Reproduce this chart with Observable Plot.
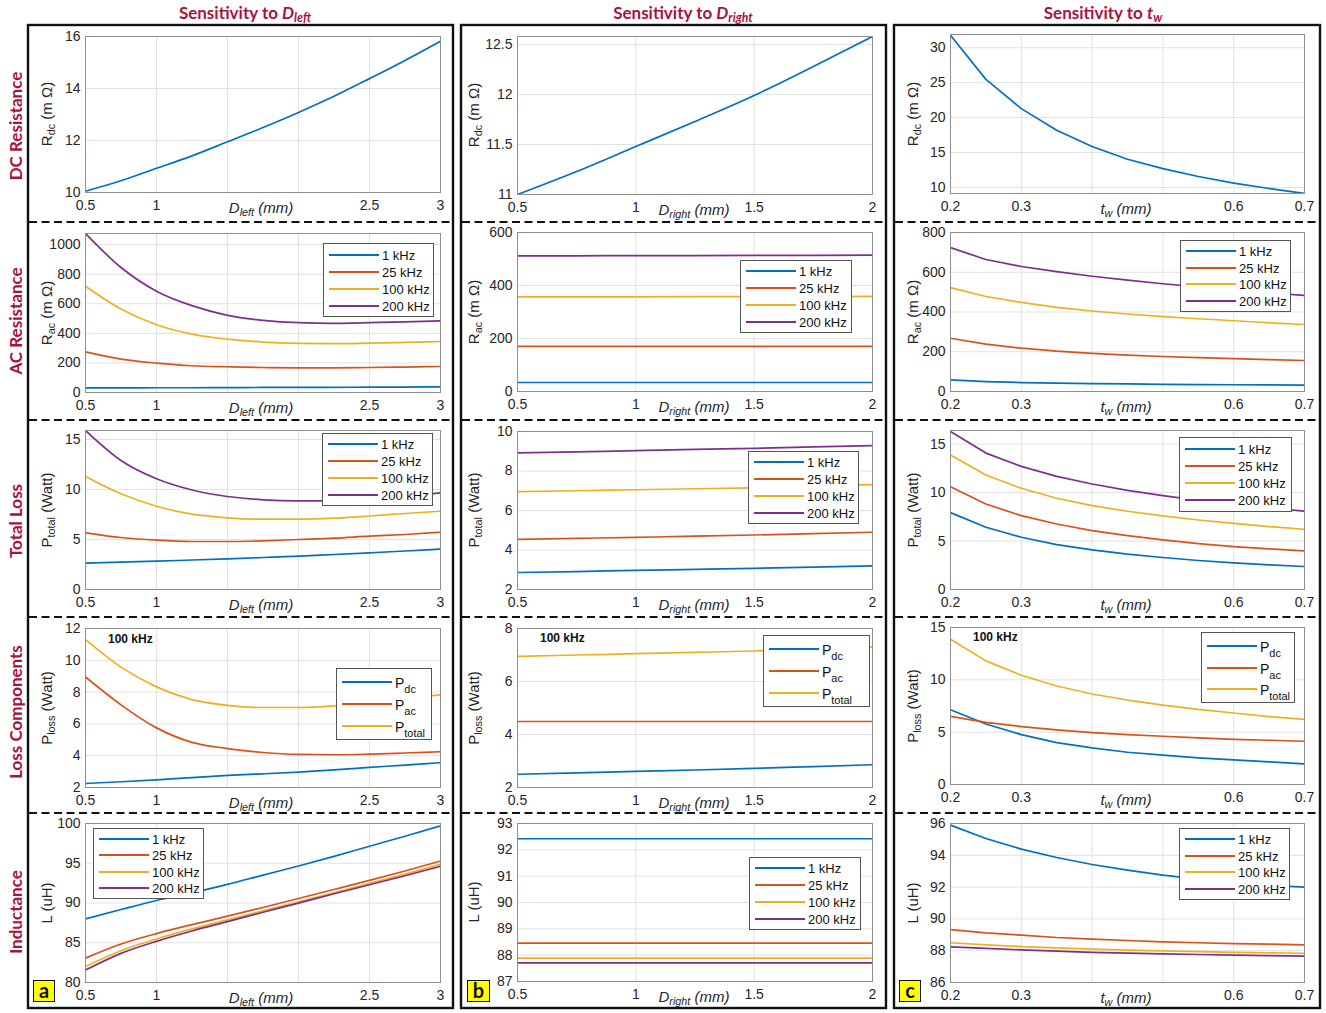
<!DOCTYPE html>
<html>
<head>
<meta charset="utf-8">
<script src="https://cdn.jsdelivr.net/npm/d3@7"></script>
<script src="https://cdn.jsdelivr.net/npm/@observablehq/plot@0.6"></script>
<style>
  body { margin: 0; background: #fff; }
  #root { position: relative; width: 1326px; height: 1013px; overflow: hidden; font-family: "Liberation Sans", Arial, sans-serif; background:#fff; }
  .abs { position: absolute; }
  .wrap { position: absolute; overflow: hidden; }
  .title { font-family: Lato, "Open Sans", sans-serif; font-weight: 700; color: #a8123e; font-size: 17px; white-space: nowrap; transform: translate(-50%, -50%); }
  .rowlab { font-family: Lato, "Open Sans", sans-serif; font-weight: 700; color: #a8123e; font-size: 17px; white-space: nowrap; transform: translate(-50%, -50%) rotate(-90deg); }
  .title sub, .rowlab sub { font-size: 0.72em; vertical-align: -0.3em; line-height: 0; }
  .ylab { font-size: 15px; color: #262626; white-space: nowrap; transform: translate(-50%, -50%) rotate(-90deg); }
  .xlab { font-size: 15px; color: #262626; white-space: nowrap; transform: translate(-50%, -50%); }
  .ylab sub, .xlab sub { font-size: 0.72em; vertical-align: -0.35em; line-height: 0; }
  .legend { position: absolute; box-sizing: border-box; border: 1px solid #555; background: #fff; color: #111; }
  .legend .ln { position: absolute; left: 5px; width: 50px; height: 2px; }
  .legend .tx { position: absolute; left: 58px; white-space: nowrap; transform: translateY(-50%); }
  .legend .tx sub { font-size: 0.78em; vertical-align: -0.45em; line-height: 0; }
  .note { font-weight: 700; font-size: 12px; color: #111; white-space: nowrap; transform: translateY(-50%); }
  .letter { box-sizing: border-box; background: #ffff00; border: 1.5px solid #111; font-family: Lato, "Open Sans", sans-serif; font-weight: 700; font-size: 20px; color: #111; text-align: center; line-height: 19px; }
</style>
</head>
<body>
<div id="root"></div>
<script>
// ---------------- DATA ----------------
const seriesColors = ["#0072BD", "#D95319", "#EDB120", "#7E2F8E"];
const freqLabels = ["1 kHz", "25 kHz", "100 kHz", "200 kHz"];
const lossLabels = ["P<sub>dc</sub>", "P<sub>ac</sub>", "P<sub>total</sub>"];

const dLeft  = [0.5, 0.75, 1, 1.25, 1.5, 1.75, 2, 2.25, 2.5, 2.75, 3];
const dRight = [0.5, 0.75, 1, 1.25, 1.5, 1.75, 2];
const tw     = [0.2, 0.25, 0.3, 0.35, 0.4, 0.45, 0.5, 0.55, 0.6, 0.65, 0.7];

// tick values
const xTicksLeft  = [0.5, 1, 1.5, 2, 2.5, 3];
const xTicksRight = [0.5, 1, 1.5, 2];
const xTicksTw    = [0.2, 0.3, 0.4, 0.5, 0.6, 0.7];

// Row 1: DC resistance (mOhm)
const rdcLeft  = [10.05, 10.45, 10.93, 11.41, 11.95, 12.5, 13.08, 13.7, 14.38, 15.08, 15.82];
const rdcRight = [11.0, 11.23, 11.48, 11.73, 11.99, 12.28, 12.58];
const rdcTw    = [31.8, 25.48, 21.29, 18.19, 15.86, 14.05, 12.71, 11.57, 10.62, 9.86, 9.14];

// Row 2: AC resistance (mOhm)
const racLeft1k   = [31, 31, 32, 32, 33, 34, 35, 35, 36, 37, 38];
const racLeft25k  = [275, 226, 199, 181, 174, 169, 167, 167, 169, 172, 176];
const racLeft100k = [718, 564, 458, 395, 361, 341, 332, 330, 334, 339, 345];
const racLeft200k = [1075, 845, 685, 587, 522, 488, 472, 468, 472, 478, 484];

const racRight1k   = [34, 34, 34, 34, 34, 34, 34];
const racRight25k  = [170, 170, 170, 170, 170, 170, 170];
const racRight100k = [357, 357, 357, 358, 358, 358, 359];
const racRight200k = [512, 512, 513, 513, 514, 514, 515];

const racTw1k   = [58, 50, 45, 42, 40, 38, 36, 35, 34, 33, 32];
const racTw25k  = [268, 238, 218, 203, 192, 183, 176, 170, 165, 160, 156];
const racTw100k = [523, 478, 448, 423, 405, 390, 377, 366, 356, 346, 337];
const racTw200k = [724, 664, 629, 603, 580, 560, 542, 526, 510, 496, 483];

// Row 3: total loss (W)
const ptLeft1k   = [2.63, 2.73, 2.83, 2.95, 3.07, 3.2, 3.33, 3.5, 3.67, 3.85, 4.03];
const ptLeft25k  = [5.67, 5.2, 4.93, 4.8, 4.8, 4.87, 5.0, 5.13, 5.33, 5.5, 5.73];
const ptLeft100k = [11.3, 9.57, 8.33, 7.53, 7.17, 7.03, 7.03, 7.13, 7.35, 7.6, 7.83];
const ptLeft200k = [15.9, 12.9, 11.07, 9.95, 9.3, 8.97, 8.87, 8.87, 9.03, 9.3, 9.67];

const ptRight1k   = [2.86, 2.91, 2.97, 3.02, 3.07, 3.13, 3.2];
const ptRight25k  = [4.54, 4.59, 4.64, 4.7, 4.76, 4.83, 4.9];
const ptRight100k = [6.95, 7.0, 7.05, 7.1, 7.15, 7.23, 7.31];
const ptRight200k = [8.92, 8.97, 9.03, 9.09, 9.15, 9.22, 9.29];

const ptTw1k   = [7.93, 6.42, 5.39, 4.63, 4.09, 3.64, 3.3, 2.99, 2.75, 2.54, 2.37];
const ptTw25k  = [10.6, 8.82, 7.62, 6.76, 6.08, 5.56, 5.11, 4.74, 4.43, 4.19, 3.98];
const ptTw100k = [13.87, 11.81, 10.44, 9.41, 8.65, 8.07, 7.59, 7.17, 6.83, 6.49, 6.21];
const ptTw200k = [16.3, 14.07, 12.7, 11.67, 10.88, 10.23, 9.68, 9.2, 8.75, 8.41, 8.07];

// Row 4: loss components at 100 kHz (W)
const pdcLeft = [2.25, 2.36, 2.48, 2.62, 2.76, 2.86, 2.97, 3.11, 3.26, 3.41, 3.56];
const pacLeft = [8.95, 7.2, 5.75, 4.84, 4.45, 4.2, 4.08, 4.06, 4.1, 4.17, 4.25];
const pdcRight = [2.5, 2.55, 2.61, 2.66, 2.72, 2.79, 2.86];
const pacRight = [4.49, 4.49, 4.49, 4.49, 4.49, 4.49, 4.49];
const pdcTw = [7.15, 5.78, 4.77, 4.0, 3.5, 3.08, 2.8, 2.54, 2.35, 2.16, 1.97];
const pacTw = [6.51, 5.94, 5.53, 5.21, 4.96, 4.77, 4.61, 4.45, 4.32, 4.23, 4.13];

// Row 5: inductance (uH)
const lLeft1k   = [88.0, 89.18, 90.32, 91.28, 92.34, 93.5, 94.65, 95.87, 97.14, 98.4, 99.7];
const lLeft25k  = [83.07, 84.84, 86.15, 87.28, 88.34, 89.43, 90.57, 91.7, 92.84, 94.02, 95.28];
const lLeft100k = [82.02, 84.0, 85.47, 86.74, 87.87, 89.01, 90.15, 91.28, 92.46, 93.64, 94.86];
const lLeft200k = [81.56, 83.66, 85.18, 86.48, 87.66, 88.84, 89.98, 91.16, 92.29, 93.43, 94.61];

const lRight1k   = [92.42, 92.42, 92.42, 92.42, 92.42, 92.42, 92.42];
const lRight25k  = [88.46, 88.46, 88.46, 88.46, 88.46, 88.46, 88.46];
const lRight100k = [87.89, 87.89, 87.89, 87.89, 87.89, 87.89, 87.89];
const lRight200k = [87.71, 87.71, 87.71, 87.71, 87.71, 87.71, 87.71];

const lTw1k   = [95.9, 95.06, 94.39, 93.86, 93.42, 93.07, 92.75, 92.5, 92.27, 92.12, 92.0];
const lTw25k  = [89.33, 89.12, 88.98, 88.83, 88.73, 88.64, 88.56, 88.5, 88.45, 88.41, 88.37];
const lTw100k = [88.5, 88.37, 88.26, 88.18, 88.1, 88.04, 87.99, 87.94, 87.9, 87.87, 87.84];
const lTw200k = [88.24, 88.14, 88.05, 87.97, 87.9, 87.85, 87.8, 87.76, 87.72, 87.69, 87.66];

// ---------------- LAYOUT ----------------
const seps = [26, 222, 420, 617, 813, 1007];
const cols = [
  {boxL: 28, boxR: 453, pl: 85, pr: 440, xs: dLeft, xdom: [0.5, 3], xticks: xTicksLeft, xhide: [1.5, 2],
   xlab: '<i>D</i><sub><i>left</i></sub> <i>(mm)</i>', xlabX: 261, ylabX: 46, curve: "monotone-x",
   title: 'Sensitivity to <i>D</i><sub><i>left</i></sub>', titleX: 245, letter: "a", letterBox: [33, 980, 22, 22]},
  {boxL: 461, boxR: 886, pl: 517, pr: 872, xs: dRight, xdom: [0.5, 2], xticks: xTicksRight, xhide: [],
   xlab: '<i>D</i><sub><i>right</i></sub> <i>(mm)</i>', xlabX: 694, ylabX: 473, curve: "monotone-x",
   title: 'Sensitivity to <i>D</i><sub><i>right</i></sub>', titleX: 683, letter: "b", letterBox: [467, 980, 23, 22]},
  {boxL: 894, boxR: 1320, pl: 950, pr: 1304, xs: tw, xdom: [0.2, 0.7], xticks: xTicksTw, xhide: [0.4, 0.5],
   xlab: '<i>t</i><sub><i>w</i></sub> <i>(mm)</i>', xlabX: 1126, ylabX: 912, curve: "linear",
   title: 'Sensitivity to <i>t</i><sub><i>w</i></sub>', titleX: 1103, letter: "c", letterBox: [899, 980, 22, 22]}
];
const rowLabels = [
  {text: "DC Resistance", y: 126}, {text: "AC Resistance", y: 321}, {text: "Total Loss", y: 521},
  {text: "Loss Components", y: 712}, {text: "Inductance", y: 912}
];
const yLabels = ['R<sub>dc</sub> (m Ω)', 'R<sub>ac</sub> (m Ω)', 'P<sub>total</sub> (Watt)', 'P<sub>loss</sub> (Watt)', 'L (uH)'];

const panels = [
  {row: 0, col: 0, top: 36, bottom: 192, ydom: [10, 16], yticks: [10, 12, 14, 16], series: [rdcLeft]},
  {row: 0, col: 1, top: 36, bottom: 194, ydom: [11, 12.58], yticks: [11, 11.5, 12, 12.5], series: [rdcRight]},
  {row: 0, col: 2, top: 34, bottom: 193, ydom: [9.14, 31.9], yticks: [10, 15, 20, 25, 30], series: [rdcTw]},

  {row: 1, col: 0, top: 233, bottom: 392, ydom: [0, 1075], yticks: [0, 200, 400, 600, 800, 1000],
   series: [racLeft1k, racLeft25k, racLeft100k, racLeft200k], legend: {labels: freqLabels, box: [323, 243, 111, 74]}},
  {row: 1, col: 1, top: 232, bottom: 391, ydom: [0, 600], yticks: [0, 200, 400, 600],
   series: [racRight1k, racRight25k, racRight100k, racRight200k], legend: {labels: freqLabels, box: [740, 260, 112, 73]}},
  {row: 1, col: 2, top: 232, bottom: 391, ydom: [0, 800], yticks: [0, 200, 400, 600, 800],
   series: [racTw1k, racTw25k, racTw100k, racTw200k], legend: {labels: freqLabels, box: [1180, 240, 111, 72]}},

  {row: 2, col: 0, top: 430, bottom: 589, ydom: [0, 15.9], yticks: [0, 5, 10, 15],
   series: [ptLeft1k, ptLeft25k, ptLeft100k, ptLeft200k], legend: {labels: freqLabels, box: [322, 433, 111, 73]}},
  {row: 2, col: 1, top: 431, bottom: 589, ydom: [2, 10], yticks: [2, 4, 6, 8, 10],
   series: [ptRight1k, ptRight25k, ptRight100k, ptRight200k], legend: {labels: freqLabels, box: [748, 451, 111, 73]}},
  {row: 2, col: 2, top: 430, bottom: 589, ydom: [0, 16.4], yticks: [0, 5, 10, 15],
   series: [ptTw1k, ptTw25k, ptTw100k, ptTw200k], legend: {labels: freqLabels, box: [1179, 437, 113, 75]}},

  {row: 3, col: 0, top: 628, bottom: 787, ydom: [2, 12], yticks: [2, 4, 6, 8, 10, 12],
   series: [pdcLeft, pacLeft, ptLeft100k], legend: {labels: lossLabels, box: [336, 668, 96, 72], loss: true}, note: [108, 639]},
  {row: 3, col: 1, top: 628, bottom: 787, ydom: [2, 8], yticks: [2, 4, 6, 8],
   series: [pdcRight, pacRight, ptRight100k], legend: {labels: lossLabels, box: [763, 635, 107, 72], loss: true}, note: [540, 638]},
  {row: 3, col: 2, top: 627, bottom: 784, ydom: [0, 15], yticks: [0, 5, 10, 15],
   series: [pdcTw, pacTw, ptTw100k], legend: {labels: lossLabels, box: [1201, 632, 94, 71], loss: true}, note: [973, 637]},

  {row: 4, col: 0, top: 823, bottom: 982, ydom: [80, 100], yticks: [80, 85, 90, 95, 100],
   series: [lLeft1k, lLeft25k, lLeft100k, lLeft200k], legend: {labels: freqLabels, box: [93, 828, 111, 71]}},
  {row: 4, col: 1, top: 823, bottom: 981, ydom: [87, 93], yticks: [87, 88, 89, 90, 91, 92, 93],
   series: [lRight1k, lRight25k, lRight100k, lRight200k], legend: {labels: freqLabels, box: [749, 857, 112, 73]}},
  {row: 4, col: 2, top: 823, bottom: 982, ydom: [86, 96], yticks: [86, 88, 90, 92, 94, 96],
   series: [lTw1k, lTw25k, lTw100k, lTw200k], legend: {labels: freqLabels, box: [1179, 828, 111, 72]}}
];

// ---------------- RENDER ----------------
const root = document.getElementById("root");
function div(cls, L, T, html, W, H) {
  const d = document.createElement("div");
  d.className = "abs " + (cls || "");
  d.style.left = L + "px"; d.style.top = T + "px";
  if (W != null) d.style.width = W + "px";
  if (H != null) d.style.height = H + "px";
  if (html != null) d.innerHTML = html;
  root.appendChild(d);
  return d;
}

panels.forEach(p => {
  const c = cols[p.col];
  const svgL = c.boxL + 2, svgR = c.boxR - 2;
  const svgT = seps[p.row] + 2;
  const svgB = seps[p.row + 1] - 2;
  const marks = [
    Plot.gridX(c.xticks, {stroke: "#e2e2e2", strokeOpacity: 1}),
    Plot.gridY(p.yticks, {stroke: "#e2e2e2", strokeOpacity: 1}),
    Plot.axisX({ticks: c.xticks, tickSize: 0, tickPadding: 8, label: null,
      tickFormat: d => c.xhide.includes(d) ? "" : String(d)}),
    Plot.axisY({ticks: p.yticks, tickSize: 0, tickPadding: 5, label: null, tickFormat: d => String(d)})
  ];
  p.series.forEach((ys, i) => {
    marks.push(Plot.line(ys, {x: c.xs, y: ys, stroke: seriesColors[i], strokeWidth: 1.7, curve: c.curve, clip: true}));
  });
  marks.push(Plot.frame({stroke: "#8f8f8f", strokeWidth: 1}));
  const chart = Plot.plot({
    width: svgR - svgL, height: svgB - svgT,
    marginLeft: c.pl - svgL, marginRight: svgR - c.pr,
    marginTop: p.top - svgT, marginBottom: svgB - p.bottom,
    x: {domain: c.xdom}, y: {domain: p.ydom},
    style: {fontFamily: '"Liberation Sans", Arial, sans-serif', fontSize: "14px", color: "#262626", background: "transparent"},
    marks
  });
  const w = document.createElement("div");
  w.className = "wrap";
  w.style.left = svgL + "px"; w.style.top = svgT + "px";
  w.style.width = (svgR - svgL) + "px"; w.style.height = (svgB - svgT) + "px";
  w.appendChild(chart);
  root.appendChild(w);
});

// frames and dashed separators
const ov = d3.select(root).append("svg").attr("class", "abs").style("left", "0px").style("top", "0px")
  .attr("width", 1326).attr("height", 1013).style("pointer-events", "none");
cols.forEach(c => {
  ov.append("rect").attr("x", c.boxL).attr("y", 25).attr("width", c.boxR - c.boxL).attr("height", 983)
    .attr("fill", "none").attr("stroke", "#111").attr("stroke-width", 2.4);
  seps.slice(1, 5).forEach(y => {
    ov.append("line").attr("x1", c.boxL + 1).attr("x2", c.boxR - 1).attr("y1", y).attr("y2", y)
      .attr("stroke", "#111").attr("stroke-width", 2).attr("stroke-dasharray", "8,4.5");
  });
});

// titles and row labels
cols.forEach(c => div("title", c.titleX, 12, c.title));
rowLabels.forEach(r => div("rowlab", 15, r.y, r.text));

// axis labels, legends, notes
panels.forEach(p => {
  const c = cols[p.col];
  div("ylab", c.ylabX, (p.top + p.bottom) / 2, yLabels[p.row]);
  div("xlab", c.xlabX, p.bottom + 15, c.xlab);
  if (p.legend) {
    const [L, T, W, H] = p.legend.box;
    const lg = div("legend", L, T, null, W, H);
    const n = p.legend.labels.length;
    const step = (H - 6) / n;
    p.legend.labels.forEach((lab, i) => {
      const cy = Math.round(2 + step * (i + 0.5));
      const ln = document.createElement("div");
      ln.className = "ln"; ln.style.top = (cy - 1) + "px"; ln.style.background = seriesColors[i];
      lg.appendChild(ln);
      const tx = document.createElement("div");
      tx.className = "tx"; tx.style.top = (p.legend.loss ? cy + 1 : cy) + "px";
      tx.style.fontSize = p.legend.loss ? "14px" : "13px";
      tx.innerHTML = lab;
      lg.appendChild(tx);
    });
  }
  if (p.note) div("note", p.note[0], p.note[1], "100 kHz");
});

// panel letters
cols.forEach(c => {
  const [L, T, W, H] = c.letterBox;
  div("letter", L, T, c.letter, W, H);
});
</script>
</body>
</html>
